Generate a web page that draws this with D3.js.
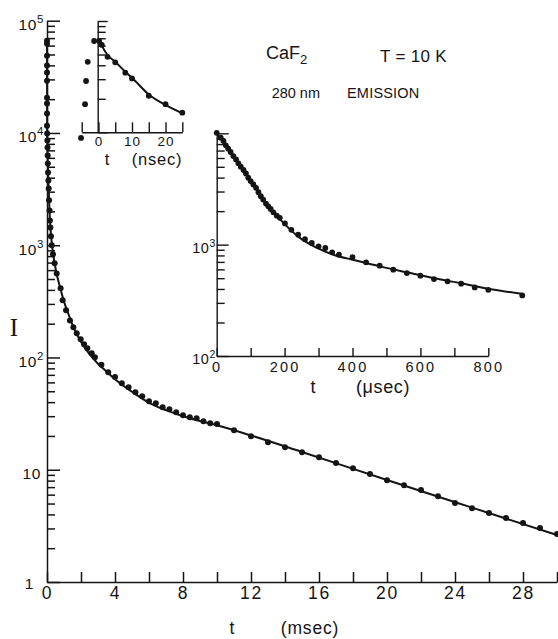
<!DOCTYPE html>
<html>
<head>
<meta charset="utf-8">
<script src="https://cdn.jsdelivr.net/npm/d3@7"></script>
<style>
  html, body { margin: 0; padding: 0; background: #fff; }
  svg { display: block; }
</style>
</head>
<body>
<div id="chart"></div>
<script>
// ---------------- data ----------------
// Main panel: time in msec, intensity (log scale)
const mainT = [0, 0, 0, 0, 0, 0, 0, 0, 0, 0,
  0.01, 0.02, 0.03, 0.04, 0.05, 0.06, 0.08, 0.10, 0.12, 0.15, 0.17, 0.20, 0.23, 0.28, 0.35,
  0.45, 0.57, 0.8, 0.92, 1.12, 1.35, 1.55, 1.75, 1.98, 2.18, 2.37, 2.63, 2.82,
  3.2, 3.6, 4.0, 4.4, 4.8, 5.2, 5.6, 6.0, 6.4, 6.8, 7.2, 7.6, 8.0, 8.4, 8.8, 9.2, 9.6, 10,
  11, 12, 13, 14, 15, 16, 17, 18, 19, 20, 21, 22, 23, 24, 25, 26, 27, 28, 29, 30];
const mainI = [66400, 62400, 48800, 39800, 34500, 29200, 20600, 18300, 14900, 11600,
  9880, 8560, 7410, 6290, 5350, 4450, 3770, 3200, 2510, 2040, 1660, 1440, 1200, 1000, 830,
  690, 560, 413, 323, 263, 214, 186, 164, 145, 131, 121, 109, 100.5,
  86, 74, 67, 59, 54.3, 49, 45.2, 40.8, 39.1, 36.1, 34.6, 32.5, 30.6, 29.4, 28.8, 27.1, 26.0, 25.5,
  22.5, 19.9, 17.6, 15.9, 14.3, 12.9, 11.5, 10.3, 9.14, 8.08, 7.29, 6.59, 5.82, 5.05, 4.55,
  4.11, 3.71, 3.35, 3.02, 2.67];
const mainFitT = [0, 0.01, 0.05, 0.1, 0.15, 0.2, 0.3, 0.45, 0.6, 0.8, 1.0, 1.3, 1.6, 2.0, 2.5,
  3.0, 3.5, 4.0, 5.0, 6.0, 7.0, 8.0, 9.0, 10, 12, 15, 20, 25, 30];
const mainFitI = [66000, 10000, 5300, 3100, 2000, 1450, 980, 690, 530, 405, 315, 235, 180, 138, 107,
  88, 75, 64, 49.5, 39.5, 34, 30, 27.2, 24.9, 20.2, 14.4, 8.1, 4.6, 2.62];
const mainXTicks = [0, 2, 4, 6, 8, 10, 12, 14, 16, 18, 20, 22, 24, 26, 28, 30];
const mainXLabels = [0, 4, 8, 12, 16, 20, 24, 28];

// Inset: nanosecond range
const nsT = [-5.2, -4.0, -3.7, -3.2, -1.3, 0.2, 1.0, 2.7, 5, 8, 10, 15, 20, 25];
const nsI = [8900, 17900, 28900, 43000, 66100, 66100, 60900, 47700, 42500, 34300, 30500, 21300, 17900, 15000];
const nsFitT = [0, 2.7, 5, 8, 10, 15, 20, 25];
const nsFitI = [68800, 49500, 43000, 35000, 30900, 21900, 17600, 14800];
const nsXTicks = [-5, 0, 5, 10, 15, 20, 25];
const nsXLabels = [0, 10, 20];

// Inset: microsecond range
const usT = [0, 12, 20, 27, 34, 41, 49, 57, 64, 71, 79, 86, 93, 100, 108, 116, 123, 130, 137, 145,
  152, 159, 167, 177, 186, 201, 220, 240, 260, 280, 300, 320, 340, 360,
  400, 440, 480, 520, 560, 600, 640, 680, 720, 760, 800, 900];
const usI = [10100, 9140, 8530, 7800, 7280, 6790, 6250, 5830, 5370, 5010, 4680, 4360, 3990, 3720,
  3470, 3240, 2960, 2720, 2540, 2340, 2210, 2090, 1950, 1820, 1740, 1550, 1360, 1230, 1120, 1035,
  966, 933, 853, 813, 774, 694, 647, 596, 556, 526, 491, 468, 446, 413, 393, 350];
const usFitT = [0, 49, 100, 150, 201, 245, 294, 350, 400, 481, 560, 638, 717, 800, 898];
const usFitI = [10100, 6250, 3720, 2270, 1520, 1150, 940, 800, 733, 638, 564, 501, 452, 402, 362];
const usXTicks = [0, 100, 200, 300, 400, 500, 600, 700, 800];
const usXLabels = [0, 200, 400, 600, 800];

// ---------------- drawing ----------------
const W = 558, H = 639;
const INK = "#141414";
const SANS = "'Liberation Sans', Arial, Helvetica, sans-serif";

const svg = d3.select("#chart").append("svg")
  .attr("width", W).attr("height", H)
  .attr("font-family", SANS).attr("fill", INK);
svg.append("rect").attr("width", W).attr("height", H).attr("fill", "#fff");

const zip = (a, b) => a.map((v, i) => [v, b[i]]);

function logTicks(lo, hi) {
  const major = [], minor = [];
  for (let k = Math.round(Math.log10(lo)); k <= Math.round(Math.log10(hi)); k++) {
    const p = Math.pow(10, k);
    major.push(p);
    if (p < hi) for (let m = 2; m <= 9; m++) minor.push(m * p);
  }
  return { major, minor };
}

function styleAxis(g, width) {
  g.attr("color", INK);
  g.selectAll("path, line").attr("stroke-width", width);
  g.selectAll("text").remove();
}

// y axis with ticks pointing inward (to the right)
function yAxis(x0, y, majorLen, minorLen, width) {
  const { major, minor } = logTicks(y.domain()[0], y.domain()[1]);
  const gMin = svg.append("g").attr("transform", `translate(${x0},0)`)
    .call(d3.axisLeft(y).tickValues(minor).tickSize(-minorLen).tickSizeOuter(0));
  styleAxis(gMin, width);
  const gMaj = svg.append("g").attr("transform", `translate(${x0},0)`)
    .call(d3.axisLeft(y).tickValues(major).tickSize(-majorLen).tickSizeOuter(0));
  gMaj.select(".domain").remove();
  styleAxis(gMaj, width);
  return major;
}

// x axis with ticks pointing up, labels below
function xAxis(y0, x, ticks, labels, len, width, pad, fontSize, spacing) {
  const g = svg.append("g").attr("transform", `translate(0,${y0})`)
    .call(d3.axisBottom(x).tickValues(ticks).tickSize(-len).tickSizeOuter(0)
      .tickPadding(pad).tickFormat(d => labels.includes(d) ? String(d) : ""));
  g.attr("color", INK);
  g.selectAll("path, line").attr("stroke-width", width);
  g.selectAll("text").attr("font-family", SANS).attr("font-size", fontSize)
    .attr("fill", INK).attr("letter-spacing", spacing);
  return g;
}

function powLabel(xr, yb, exp, size, supSize, rise) {
  const t = svg.append("text").attr("x", xr).attr("y", yb)
    .attr("text-anchor", "end").attr("font-size", size).attr("letter-spacing", 0.6);
  if (exp === 0) { t.text("1"); return; }
  t.append("tspan").text("10");
  if (exp > 1) t.append("tspan").attr("dy", -rise).attr("font-size", supSize).text(String(exp));
}

function dots(x, y, T, I, r) {
  svg.append("g").selectAll("circle").data(zip(T, I)).join("circle")
    .attr("cx", d => x(d[0])).attr("cy", d => y(d[1])).attr("r", r).attr("fill", INK);
}

function fit(x, y, T, I, w) {
  svg.append("path").datum(zip(T, I))
    .attr("d", d3.line().x(d => x(d[0])).y(d => y(d[1])).curve(d3.curveMonotoneX))
    .attr("fill", "none").attr("stroke", INK).attr("stroke-width", w)
    .attr("stroke-linejoin", "round");
}

// ---- main panel ----
const xM = d3.scaleLinear().domain([0, 30]).range([47, 557]);
const yM = d3.scaleLog().domain([1, 1e5]).range([582, 20.7]);

const mainMajors = yAxis(47, yM, 13, 8, 1.5);
xAxis(582, xM, mainXTicks, mainXLabels, 10, 1.5, 5, 17.5, 1.8);

mainMajors.forEach(p => {
  const k = Math.round(Math.log10(p));
  if (k === 0) powLabel(34, yM(p) + 7, 0, 15.5);
  else if (k === 1) powLabel(41, yM(p) + 9.5, 1, 15.5);
  else powLabel(44, yM(p) + 9.5, k, 15.5, 11.5, 7);
});

fit(xM, yM, mainFitT, mainFitI, 2);
dots(xM, yM, mainT, mainI, 3);

svg.append("text").attr("x", 14).attr("y", 336).attr("text-anchor", "middle")
  .attr("font-family", "'Liberation Serif', 'Times New Roman', serif").attr("font-size", 25).text("I");
svg.append("text").attr("x", 232).attr("y", 634).attr("text-anchor", "middle")
  .attr("font-size", 17.5).text("t");
svg.append("text").attr("x", 310).attr("y", 634).attr("text-anchor", "middle")
  .attr("font-size", 17.5).attr("letter-spacing", 0.8).text("(msec)");

// ---- nanosecond inset ----
const xN = d3.scaleLinear().domain([-5, 25]).range([81.7, 182.3]);
const yN = d3.scaleLog().domain([1e4, 1e5]).range([132.3, 21]);
yAxis(97.7, yN, 10, 8, 1.4);
xAxis(132.3, xN, nsXTicks, nsXLabels, 10, 1.4, 4, 13.5, 1);
fit(xN, yN, nsFitT, nsFitI, 2);
dots(xN, yN, nsT, nsI, 2.9);
svg.append("text").attr("x", 107).attr("y", 165).attr("text-anchor", "middle")
  .attr("font-size", 16.5).text("t");
svg.append("text").attr("x", 157).attr("y", 165).attr("text-anchor", "middle")
  .attr("font-size", 16.5).attr("letter-spacing", 0.8).text("(nsec)");

// ---- microsecond inset ----
const xU = d3.scaleLinear().domain([0, 800]).range([216.7, 488.3]);
const yU = d3.scaleLog().domain([1e2, 1e4]).range([356, 133.3]);
const usMajors = yAxis(216.7, yU, 12, 8, 1.4);
xAxis(356, xU, usXTicks, usXLabels, 8, 1.4, 6, 14.5, 2.2);
usMajors.forEach(p => {
  const k = Math.round(Math.log10(p));
  if (k < 4) powLabel(216, yU(p) + 8, k, 14.5, 10.5, 6);
});
fit(xU, yU, usFitT, usFitI, 2);
dots(xU, yU, usT, usI, 2.9);
svg.append("text").attr("x", 313).attr("y", 393).attr("text-anchor", "middle")
  .attr("font-size", 18).text("t");
svg.append("text").attr("x", 383).attr("y", 393).attr("text-anchor", "middle")
  .attr("font-size", 18).attr("letter-spacing", 0.6).text("(\u03BCsec)");

// ---- annotations ----
const caf = svg.append("text").attr("x", 266).attr("y", 59).attr("font-size", 18);
caf.append("tspan").text("CaF");
caf.append("tspan").attr("dy", 5).attr("font-size", 13).text("2");
svg.append("text").attr("x", 380).attr("y", 62).attr("font-size", 17).attr("letter-spacing", 0.3).text("T = 10 K");
svg.append("text").attr("x", 320).attr("y", 98).attr("text-anchor", "end").attr("font-size", 14.5).text("280 nm");
svg.append("text").attr("x", 347).attr("y", 98).attr("font-size", 14.5).attr("letter-spacing", 0.2).text("EMISSION");
</script>
</body>
</html>
